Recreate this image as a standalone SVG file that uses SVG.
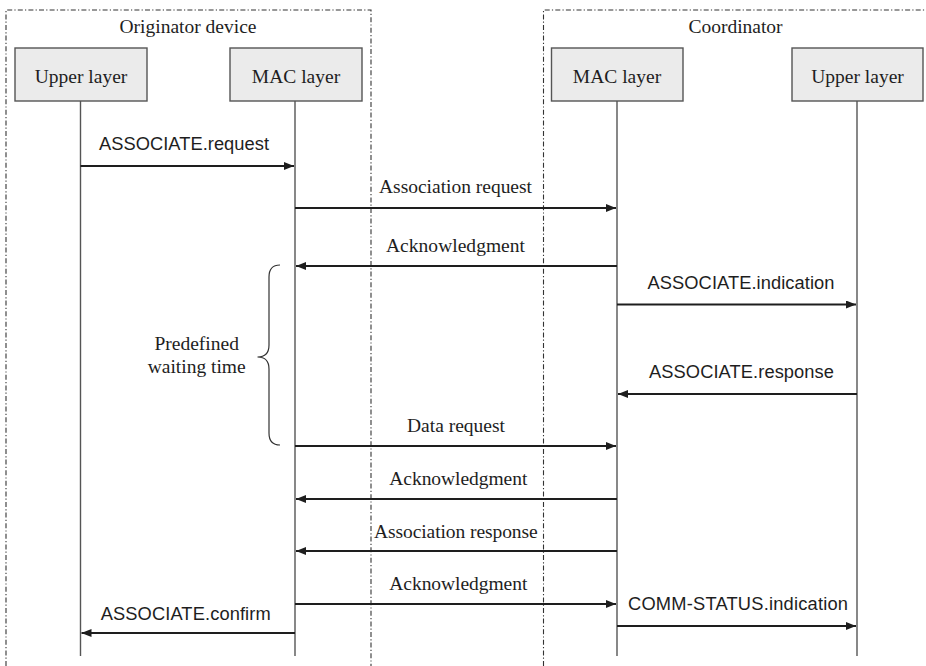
<svg xmlns="http://www.w3.org/2000/svg" width="926" height="666" viewBox="0 0 926 666">
  <defs>
    <marker id="arrow" viewBox="0 0 10 8" refX="10" refY="4" markerWidth="10" markerHeight="8" markerUnits="userSpaceOnUse" orient="auto">
      <path d="M0,0 L10,4 L0,8 Z" fill="#1e1e1e"/>
    </marker>
    <style>
      .frame { fill: none; stroke: #333; stroke-width: 1.1; stroke-dasharray: 5 2.2 1.2 2.2; }
      .box { fill: #ebebeb; stroke: #555; stroke-width: 1.4; }
      .life { stroke: #555; stroke-width: 1.4; fill: none; }
      .msg { stroke: #1e1e1e; stroke-width: 2; fill: none; marker-end: url(#arrow); }
      .serif { font-family: "Liberation Serif", "Times New Roman", serif; font-size: 19.5px; fill: #1e1e1e; text-anchor: middle; }
      .sans { font-family: "Liberation Sans", Arial, sans-serif; font-size: 18.3px; fill: #1e1e1e; text-anchor: middle; }
      .brace { fill: none; stroke: #333; stroke-width: 1.2; }
    </style>
  </defs>

  <rect width="926" height="666" fill="#ffffff"/>

  <!-- Device frames -->
  <g id="frame-originator">
    <path class="frame" d="M6,666 V10 H371 V666"/>
    <text class="serif" x="188" y="33">Originator device</text>
  </g>
  <g id="frame-coordinator">
    <path class="frame" d="M543.5,666 V10 H926"/>
    <text class="serif" x="735.5" y="33">Coordinator</text>
  </g>

  <!-- Lifelines -->
  <g id="lifelines">
    <line class="life" x1="80.5" y1="101" x2="80.5" y2="656"/>
    <line class="life" x1="295" y1="101" x2="295" y2="656"/>
    <line class="life" x1="617" y1="101" x2="617" y2="656"/>
    <line class="life" x1="857" y1="101" x2="857" y2="656"/>
  </g>

  <!-- Layer nodes -->
  <g id="orig-upper">
    <rect class="box" x="15" y="48" width="132" height="53"/>
    <text class="serif" x="81" y="83">Upper layer</text>
  </g>
  <g id="orig-mac">
    <rect class="box" x="230" y="48" width="132" height="53"/>
    <text class="serif" x="296" y="83">MAC layer</text>
  </g>
  <g id="coord-mac">
    <rect class="box" x="551.5" y="48" width="131.5" height="53"/>
    <text class="serif" x="617" y="83">MAC layer</text>
  </g>
  <g id="coord-upper">
    <rect class="box" x="792" y="48" width="131" height="53"/>
    <text class="serif" x="857.5" y="83">Upper layer</text>
  </g>

  <!-- Messages -->
  <g id="connectors">
    <line class="msg" x1="80.5" y1="166" x2="294" y2="166"/>
    <text class="sans" x="184" y="150" textLength="170">ASSOCIATE.request</text>

    <line class="msg" x1="295" y1="208" x2="616" y2="208"/>
    <text class="serif" x="455.5" y="193" textLength="153">Association request</text>

    <line class="msg" x1="617" y1="266" x2="296" y2="266"/>
    <text class="serif" x="455.5" y="252" textLength="139">Acknowledgment</text>

    <line class="msg" x1="617" y1="304.5" x2="856" y2="304.5"/>
    <text class="sans" x="741" y="289" textLength="187">ASSOCIATE.indication</text>

    <line class="msg" x1="857" y1="394" x2="618" y2="394"/>
    <text class="sans" x="741.5" y="378" textLength="185">ASSOCIATE.response</text>

    <line class="msg" x1="295" y1="446" x2="616" y2="446"/>
    <text class="serif" x="456" y="432" textLength="98">Data request</text>

    <line class="msg" x1="617" y1="499" x2="296" y2="499"/>
    <text class="serif" x="458.3" y="485" textLength="138">Acknowledgment</text>

    <line class="msg" x1="617" y1="551" x2="296" y2="551"/>
    <text class="serif" x="455.8" y="538" textLength="163.7">Association response</text>

    <line class="msg" x1="295" y1="604" x2="616" y2="604"/>
    <text class="serif" x="458.3" y="589.5" textLength="138">Acknowledgment</text>

    <line class="msg" x1="617" y1="626" x2="856" y2="626"/>
    <text class="sans" x="738" y="610" textLength="220">COMM-STATUS.indication</text>

    <line class="msg" x1="295" y1="633" x2="81.5" y2="633"/>
    <text class="sans" x="185.7" y="619.5" textLength="170">ASSOCIATE.confirm</text>
  </g>

  <!-- Waiting period annotation -->
  <g id="waiting-time">
    <path class="brace" d="M280,265 Q269,265 269,277 L269,345 Q269,357 257.5,357 Q269,357 269,369 L269,433 Q269,445 280,445"/>
    <text class="serif" x="196.7" y="350">Predefined</text>
    <text class="serif" x="196.7" y="372.5">waiting time</text>
  </g>
</svg>
